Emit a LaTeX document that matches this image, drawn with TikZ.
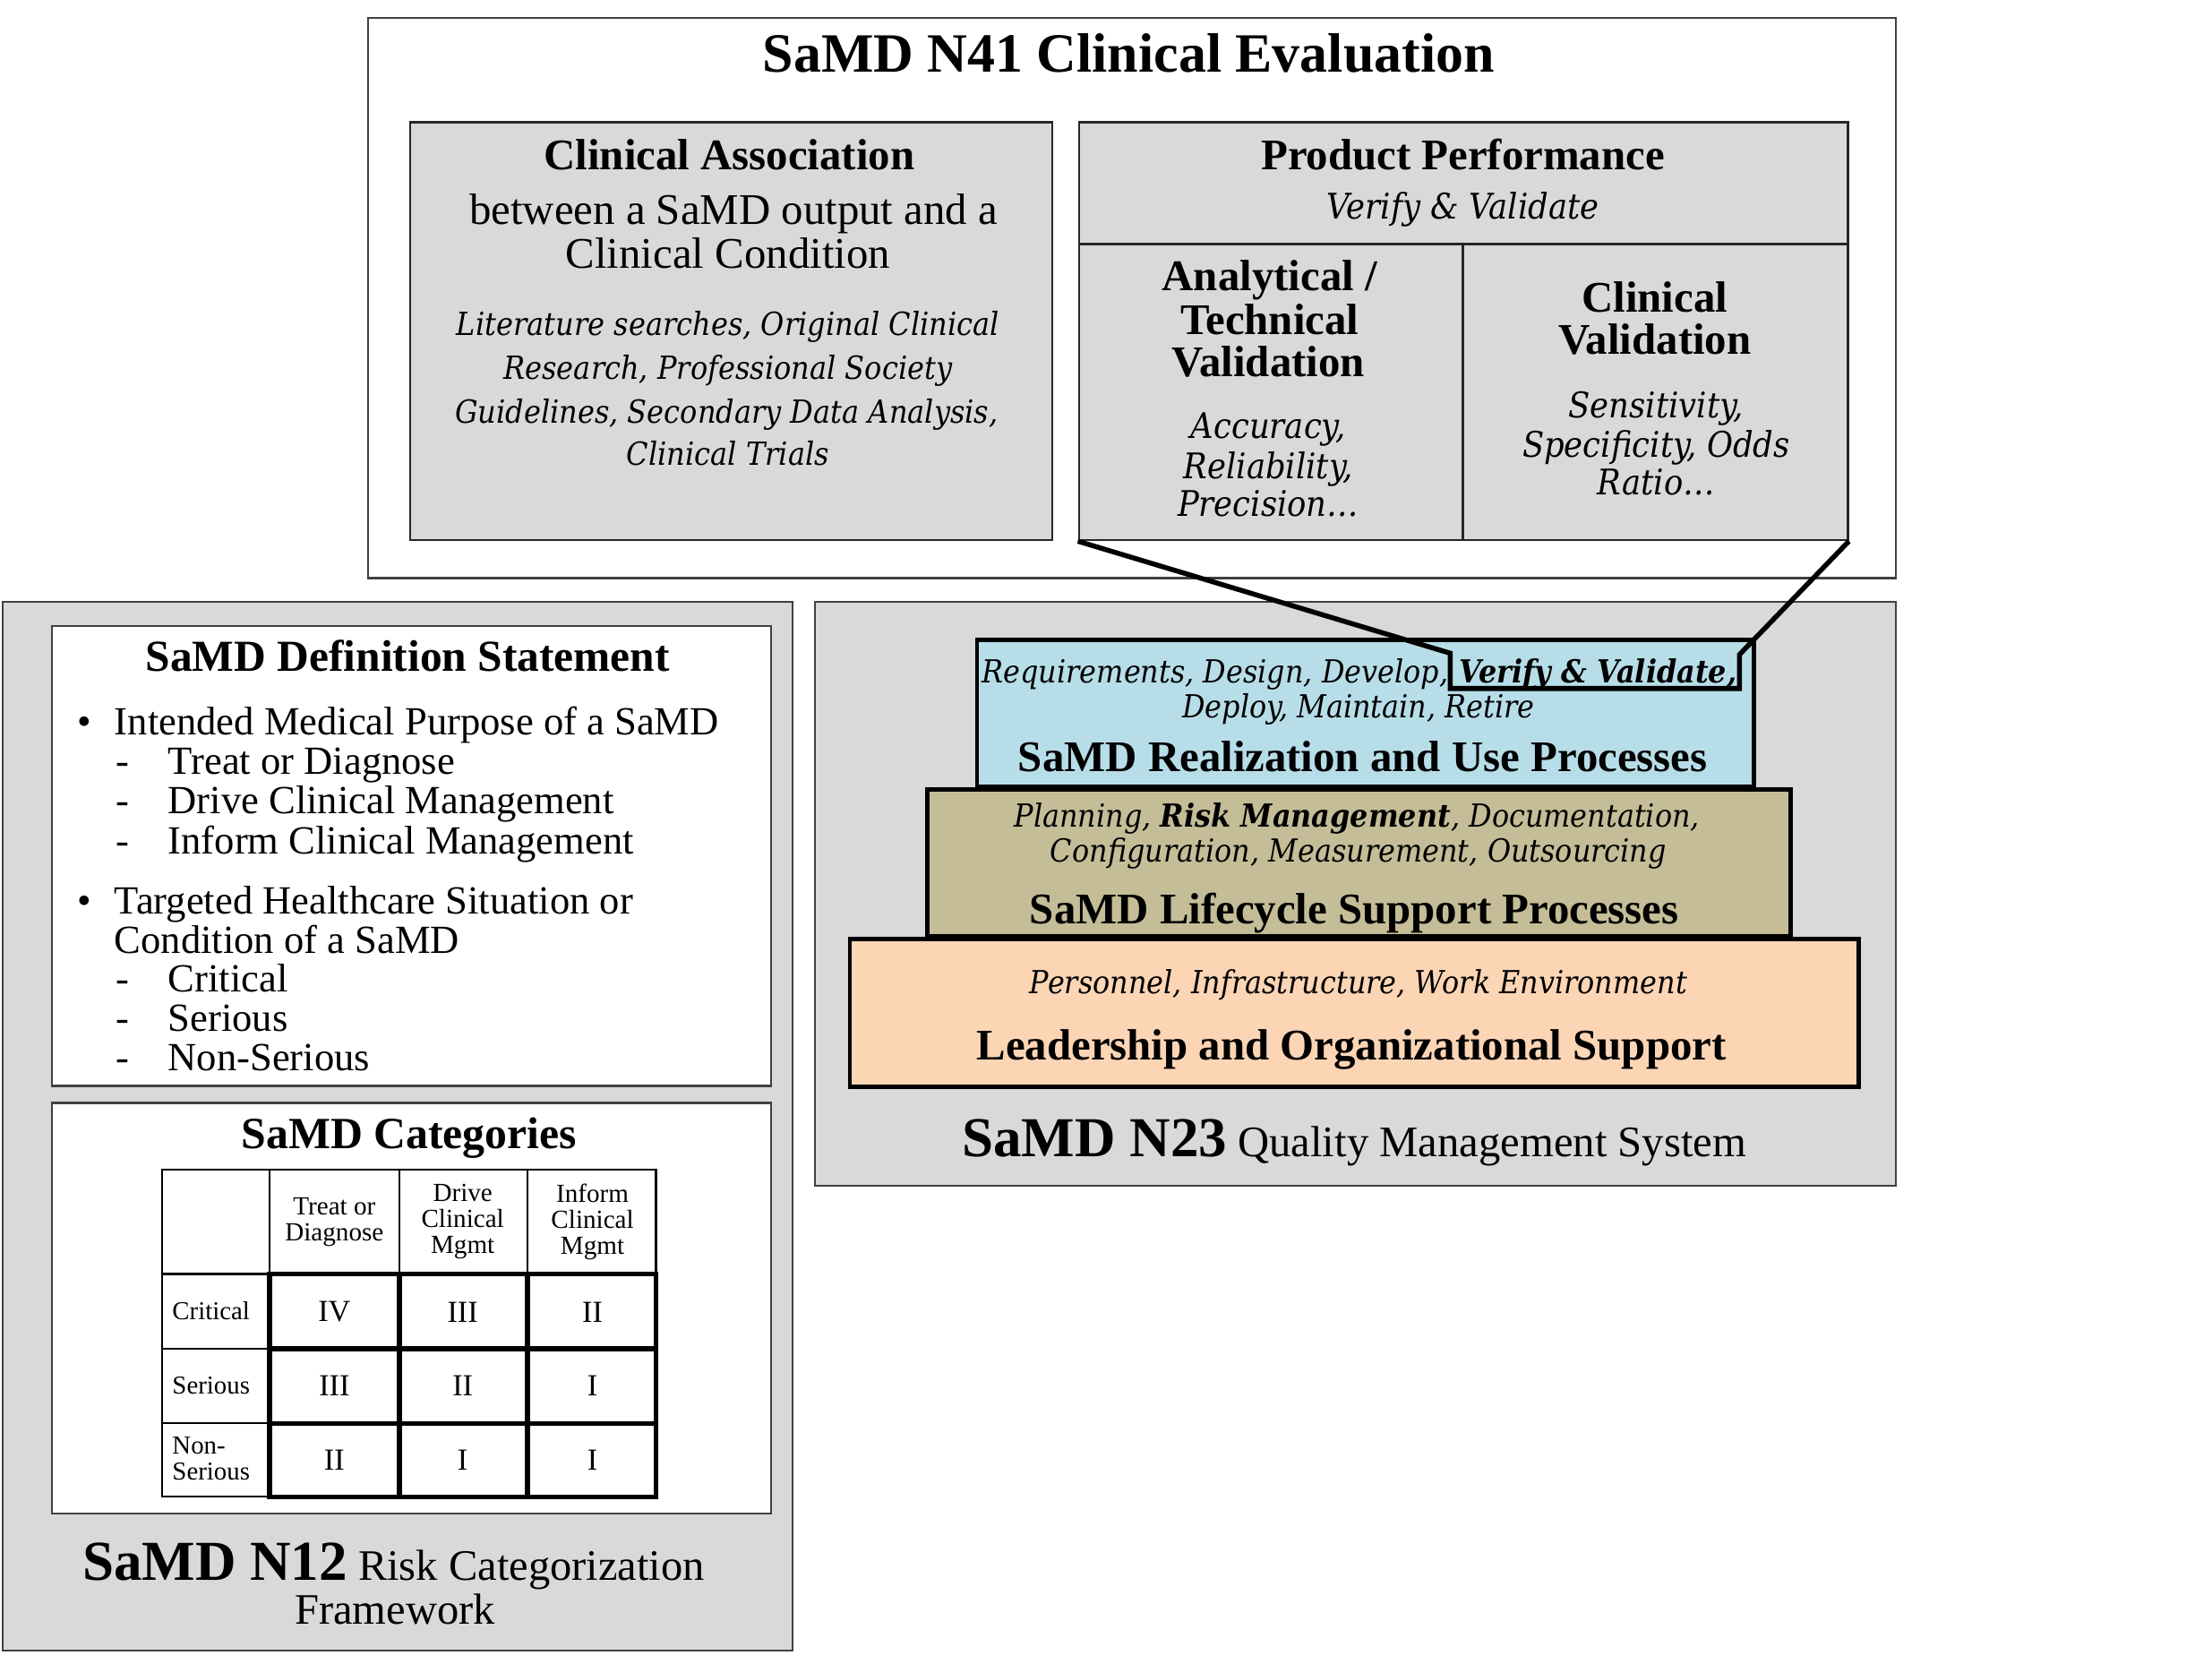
\documentclass[tikz,border=0pt]{standalone}
\usepackage{fontspec}
\setmainfont{Liberation Serif}
\newfontfamily\cent[FakeStretch=0.9]{DejaVu Serif}
\definecolor{panelgray}{HTML}{D9D9D9}
\definecolor{realblue}{HTML}{B7DEE8}
\definecolor{lifetan}{HTML}{C4BD97}
\definecolor{leadpeach}{HTML}{FCD5B5}
\definecolor{edgegray}{HTML}{404040}
\newcommand\fsz[2]{\fontsize{#1pt}{#2pt}\selectfont}
\tikzset{
  panel/.style={draw=edgegray, line width=1.4pt, fill=panelgray, inner sep=0pt, anchor=north west},
  whitepanel/.style={panel, fill=white},
  graybox/.style={draw=black!85, line width=1.6pt, fill=panelgray, inner sep=0pt, anchor=north west},
  tier/.style={draw=black, line width=3pt, inner sep=0pt, anchor=north west},
  txt/.style={anchor=base, inner sep=0pt},
  ltxt/.style={anchor=base west, inner sep=0pt},
  head/.style={txt, font=\fsz{31}{31}\bfseries},
  body/.style={txt, font=\fsz{31}{31}},
  calit/.style={txt, font=\cent\itshape\fsz{22.6}{31}},
  ppit/.style={txt, font=\cent\itshape\fsz{25}{27}},
  qmsit/.style={txt, font=\cent\itshape\fsz{22.5}{25}},
  listtxt/.style={ltxt, font=\fsz{28.3}{28}},
  listmark/.style={txt, font=\fsz{28.3}{28}},
  tabhead/.style={anchor=center, inner sep=0pt, align=center, font=\fsz{18.5}{18.5}},
  rowlab/.style={anchor=west, inner sep=0pt, align=left, font=\fsz{18.3}{18.5}},
  numeral/.style={anchor=center, inner sep=0pt, font=\fsz{21.7}{22}},
  tabthin/.style={draw=black, line width=1.3pt, line cap=rect},
  tabthick/.style={draw=black, line width=3.6pt, line cap=rect},
  divider/.style={draw=black!85, line width=1.6pt},
  callout/.style={draw=black, line width=3.5pt, line join=miter}
}
\begin{document}
\begin{tikzpicture}[x=1pt,y=-1pt]
\useasboundingbox (0,0) rectangle (1568,1179);

% ---------------- N41 Clinical Evaluation ----------------
\node[whitepanel, minimum width=1083pt, minimum height=397pt] (n41) at (260,12) {};
\node[txt, font=\fsz{39.3}{40}\bfseries] (n41title) at (800,51) {SaMD N41 Clinical Evaluation};

\node[graybox, minimum width=455pt, minimum height=296pt] (ca) at (290,86) {};
\node[head] (cahead) at (517,120) {Clinical Association};
\node[body] (cab1) at (520,159) {between a SaMD output and a};
\node[body] (cab2) at (516,190) {Clinical Condition};
\node[calit] (cai1) at (516,238) {Literature searches, Original Clinical};
\node[calit] (cai2) at (516,269) {Research, Professional Society};
\node[calit] (cai3) at (515,300) {Guidelines, Secondary Data Analysis,};
\node[calit] (cai4) at (516,330) {Clinical Trials};

\node[graybox, minimum width=545pt, minimum height=296pt] (pp) at (764,86) {};
\coordinate (ppmidL) at (764,173);
\coordinate (ppmidR) at (1309,173);
\coordinate (ppdivT) at (1037,173);
\coordinate (ppdivB) at (1037,382);
\draw[divider] (ppmidL) -- (ppmidR);
\draw[divider] (ppdivT) -- (ppdivB);
\node[head] (pphead) at (1037,120) {Product Performance};
\node[ppit] (ppsub) at (1037,155) {Verify \& Validate};

\node[head] (atv1) at (900,206) {Analytical /};
\node[head] (atv2) at (900,237) {Technical};
\node[head] (atv3) at (899,267) {Validation};
\node[ppit] (atvi1) at (899,311) {Accuracy,};
\node[ppit] (atvi2) at (899,339) {Reliability,};
\node[ppit] (atvi3) at (899,366) {Precision…};

\node[head] (cv1) at (1173,221) {Clinical};
\node[head] (cv2) at (1173,251) {Validation};
\node[ppit] (cvi1) at (1174,296) {Sensitivity,};
\node[ppit] (cvi2) at (1174,324) {Specificity, Odds};
\node[ppit] (cvi3) at (1174,351) {Ratio…};

% ---------------- N12 Risk Categorization ----------------
\node[panel, minimum width=560pt, minimum height=743pt] (n12) at (1,426) {};
\node[whitepanel, minimum width=510pt, minimum height=326pt] (defbox) at (36,443) {};
\node[txt, font=\fsz{31.4}{31}\bfseries] (deftitle) at (289,476) {SaMD Definition Statement};

\node[listmark] (b1) at (60,521) {•};
\node[listtxt] (l1) at (81,521) {Intended Medical Purpose of a SaMD};
\node[listmark] (d1) at (87,549) {-};
\node[listtxt] (l2) at (119,549) {Treat or Diagnose};
\node[listmark] (d2) at (87,577) {-};
\node[listtxt] (l3) at (119,577) {Drive Clinical Management};
\node[listmark] (d3) at (87,605) {-};
\node[listtxt] (l4) at (119,605) {Inform Clinical Management};
\node[listmark] (b2) at (60,648) {•};
\node[listtxt] (l5) at (81,648) {Targeted Healthcare Situation or};
\node[listtxt] (l6) at (81,676) {Condition of a SaMD};
\node[listmark] (d4) at (87,703) {-};
\node[listtxt] (l7) at (119,703) {Critical};
\node[listmark] (d5) at (87,731) {-};
\node[listtxt] (l8) at (119,731) {Serious};
\node[listmark] (d6) at (87,759) {-};
\node[listtxt] (l9) at (119,759) {Non-Serious};

\node[whitepanel, minimum width=510pt, minimum height=291pt] (catbox) at (36,781) {};
\node[txt, font=\fsz{31.6}{31}\bfseries] (cattitle) at (290,814) {SaMD Categories};

% table grid
\foreach \x in {115,191,283,374,465} \draw[tabthin] (\x,829) -- (\x,1061);
\foreach \y in {829,903,956,1009,1061} \draw[tabthin] (115,\y) -- (465,\y);
\foreach \x in {191,283,374,465} \draw[tabthick] (\x,903) -- (\x,1061);
\foreach \y in {903,956,1009,1061} \draw[tabthick] (191,\y) -- (465,\y);

\node[tabhead] (h1) at (237,866) {Treat or\\Diagnose};
\node[tabhead] (h2) at (328,866) {Drive\\Clinical\\Mgmt};
\node[tabhead] (h3) at (420,866) {Inform\\Clinical\\Mgmt};
\node[rowlab] (r1) at (122,929) {Critical};
\node[rowlab] (r2) at (122,982) {Serious};
\node[rowlab] (r3) at (122,1034) {Non-\\Serious};
\node[numeral] (v11) at (237,930) {IV};
\node[numeral] (v12) at (328,930) {III};
\node[numeral] (v13) at (420,930) {II};
\node[numeral] (v21) at (237,982) {III};
\node[numeral] (v22) at (328,982) {II};
\node[numeral] (v23) at (420,982) {I};
\node[numeral] (v31) at (237,1035) {II};
\node[numeral] (v32) at (328,1035) {I};
\node[numeral] (v33) at (420,1035) {I};

\node[txt] (n12cap1) at (279,1120) {{\fsz{40}{40}\bfseries SaMD N12}\fsz{30.8}{33} Risk Categorization};
\node[txt, font=\fsz{30.8}{33}] (n12cap2) at (280,1151) {Framework};

% ---------------- N23 Quality Management System ----------------
\node[panel, minimum width=766pt, minimum height=414pt] (n23) at (577,426) {};
\node[tier, fill=leadpeach, minimum width=715pt, minimum height=105pt] (leadbox) at (601,664) {};
\node[tier, fill=lifetan, minimum width=612pt, minimum height=104pt] (lifebox) at (656,558) {};
\node[tier, fill=realblue, minimum width=551pt, minimum height=104pt] (realbox) at (691,452) {};

\node[qmsit, anchor=base east] (rq1) at (1027,484) {Requirements, Design, Develop,};
\node[qmsit, anchor=base west] (vv) at (1034,484) {\bfseries Verify \& Validate,};
\node[qmsit] (rq2) at (963,509) {Deploy, Maintain, Retire};
\node[head] (realtitle) at (966,547) {SaMD Realization and Use Processes};

\node[qmsit] (lc1) at (962,586) {Planning, {\bfseries Risk Management}, Documentation,};
\node[qmsit] (lc2) at (963,611) {Configuration, Measurement, Outsourcing};
\node[head] (lifetitle) at (960,655) {SaMD Lifecycle Support Processes};

\node[qmsit] (ld1) at (963,704) {Personnel, Infrastructure, Work Environment};
\node[head] (leadtitle) at (958,751) {Leadership and Organizational Support};

\node[txt] (n23cap) at (960,820) {{\fsz{40}{40}\bfseries SaMD N23}\fsz{30.9}{33} Quality Management System};

% ---------------- callout from Product Performance ----------------
\coordinate (hlTL) at (1028,463);
\coordinate (hlBL) at (1028,488);
\coordinate (hlBR) at (1233,488);
\coordinate (hlTR) at (1233,464);
\draw[callout] (pp.south west) -- (hlTL) -- (hlBL) -- (hlBR) -- (hlTR) -- (pp.south east);
\end{tikzpicture}
\end{document}
